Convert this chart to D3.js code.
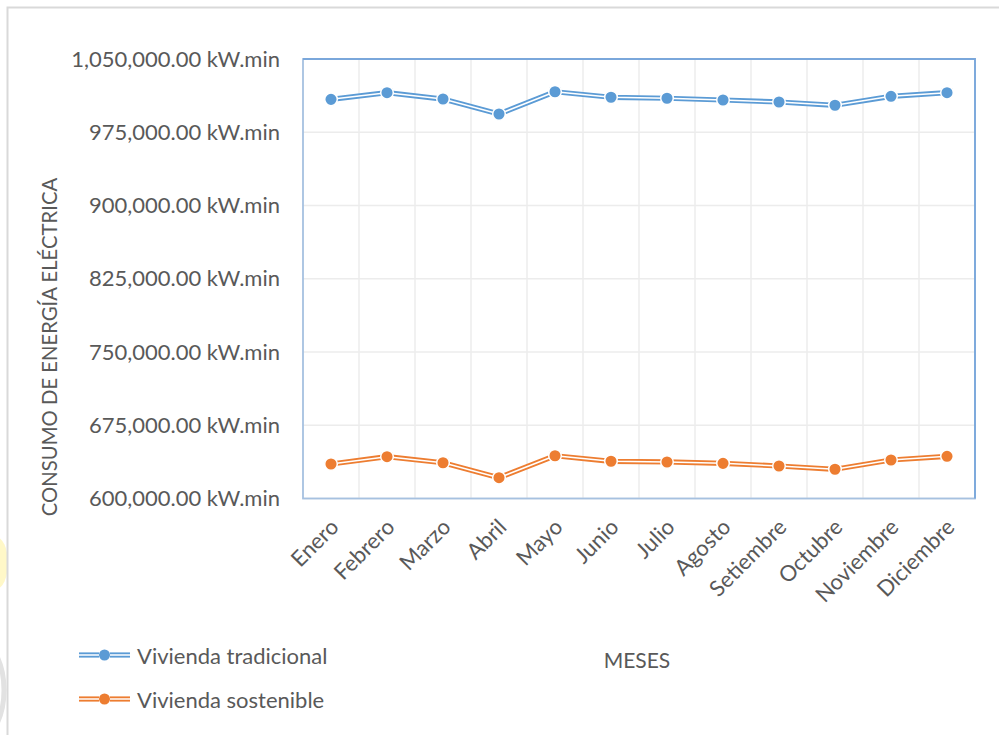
<!DOCTYPE html>
<html><head><meta charset="utf-8">
<script src="https://cdn.jsdelivr.net/npm/d3@7"></script>
<style>
html,body{margin:0;padding:0;background:#fff;}
svg{display:block;font-family:Lato,"Open Sans",sans-serif;}
</style></head>
<body>
<svg id="chart" width="999" height="735"></svg>
<script>
const months = ["Enero","Febrero","Marzo","Abril","Mayo","Junio","Julio","Agosto","Setiembre","Octubre","Noviembre","Diciembre"];
const tradicional = [1008700,1015500,1009000,993700,1016500,1010800,1009800,1008000,1006000,1002600,1011800,1015500];
const sostenible = [635300,642800,636600,621300,643800,638100,637400,636000,633300,629900,639400,643200];
const yTicks = [600000,675000,750000,825000,900000,975000,1050000];
const seriesNames = ["Vivienda tradicional","Vivienda sostenible"];
const seriesColors = ["#5b9bd5","#ed7d31"];
const yTitle = "CONSUMO DE ENERGÍA ELÉCTRICA";
const xTitle = "MESES";

const svg = d3.select("#chart");
const textColor = "#595959";

// faint background artefacts at left edge
svg.append("ellipse").attr("cx",-4).attr("cy",563).attr("rx",12).attr("ry",26).attr("fill","#fff8c8");
svg.append("ellipse").attr("cx",-26).attr("cy",690).attr("rx",30).attr("ry",52).attr("fill","none").attr("stroke","#e2e2e2").attr("stroke-width",5);

// outer chart border
svg.append("path").attr("d","M 7.5 740 L 7.5 7.5 L 1005 7.5").attr("fill","none").attr("stroke","#d9d9d9").attr("stroke-width",2);

const plot = {left:303, right:975, top:59, bottom:498.5};
const x = d3.scaleBand().domain(months).range([plot.left, plot.right]);
const y = d3.scaleLinear().domain([600000,1050000]).range([plot.bottom, plot.top]);

// gridlines
const grid = svg.append("g");
grid.selectAll("line.h").data(yTicks).join("line")
  .attr("x1",plot.left).attr("x2",plot.right)
  .attr("y1",d=>y(d)).attr("y2",d=>y(d))
  .attr("stroke","#ececec").attr("stroke-width",1.5);
grid.selectAll("line.v").data(months.slice(1)).join("line")
  .attr("x1",d=>x(d)).attr("x2",d=>x(d))
  .attr("y1",plot.top).attr("y2",plot.bottom)
  .attr("stroke","#ececec").attr("stroke-width",1.5);

// plot border
svg.append("rect").attr("x",plot.left).attr("y",plot.top)
  .attr("width",plot.right-plot.left).attr("height",plot.bottom-plot.top)
  .attr("fill","none").attr("stroke","#a6c1e0").attr("stroke-width",1.8);
svg.append("path").attr("d",`M ${plot.left} ${plot.top} L ${plot.right} ${plot.top} L ${plot.right} ${plot.bottom}`)
  .attr("fill","none").attr("stroke","#7aa7db").attr("stroke-width",1.8);

// y axis
const yAxis = d3.axisLeft(y).tickValues(yTicks).tickSize(0).tickPadding(23)
  .tickFormat(d => d3.format(",.2f")(d) + " kW.min");
const gy = svg.append("g").attr("transform",`translate(${plot.left},0)`).call(yAxis);
gy.select(".domain").remove();
gy.selectAll("text").attr("fill",textColor).style("font-size","22px").style("font-family","Lato");

// x axis
const xAxis = d3.axisBottom(x).tickSize(0).tickPadding(0);
const gx = svg.append("g").attr("transform",`translate(0,${plot.bottom})`).call(xAxis);
gx.select(".domain").remove();
gx.selectAll("text").attr("fill",textColor).style("font-size","22px").style("font-family","Lato")
  .attr("text-anchor","end").attr("dy",null).attr("y",0)
  .attr("transform","translate(9,30) rotate(-45)");

// titles
svg.append("text").attr("transform","translate(57,347) rotate(-90)")
  .attr("text-anchor","middle").attr("fill",textColor).style("font-size","20.3px").text(yTitle);
svg.append("text").attr("x",637).attr("y",668).attr("text-anchor","middle")
  .attr("fill",textColor).style("font-size","21px").text(xTitle);

// series
const allSeries = [tradicional, sostenible];
const line = d3.line().x((d,i)=>x(months[i])+x.bandwidth()/2).y(d=>y(d));
allSeries.forEach((vals,si)=>{
  const g = svg.append("g");
  g.append("path").datum(vals).attr("d",line).attr("fill","none")
    .attr("stroke",seriesColors[si]).attr("stroke-width",5.2).attr("stroke-linejoin","round");
  g.append("path").datum(vals).attr("d",line).attr("fill","none")
    .attr("stroke","#fff").attr("stroke-width",1.5).attr("stroke-linejoin","round");
  g.selectAll("circle").data(vals).join("circle")
    .attr("cx",(d,i)=>x(months[i])+x.bandwidth()/2).attr("cy",d=>y(d))
    .attr("r",6.3).attr("fill",seriesColors[si]).attr("stroke","#fff").attr("stroke-width",1.5);
});

// legend
const legY = [655, 699];
seriesNames.forEach((name,i)=>{
  const g = svg.append("g").attr("transform",`translate(0,${legY[i]})`);
  [[79,99],[110,130]].forEach(([a,b])=>{
    g.append("line").attr("x1",a).attr("x2",b).attr("y1",0).attr("y2",0)
      .attr("stroke",seriesColors[i]).attr("stroke-width",5.2);
    g.append("line").attr("x1",a).attr("x2",b).attr("y1",0).attr("y2",0)
      .attr("stroke","#fff").attr("stroke-width",1.5);
  });
  g.append("circle").attr("cx",104.5).attr("cy",0).attr("r",5.5).attr("fill",seriesColors[i]);
  g.append("text").attr("x",137).attr("y",8.5).attr("fill",textColor)
    .style("font-size","22px").text(name);
});
</script>
</body></html>
